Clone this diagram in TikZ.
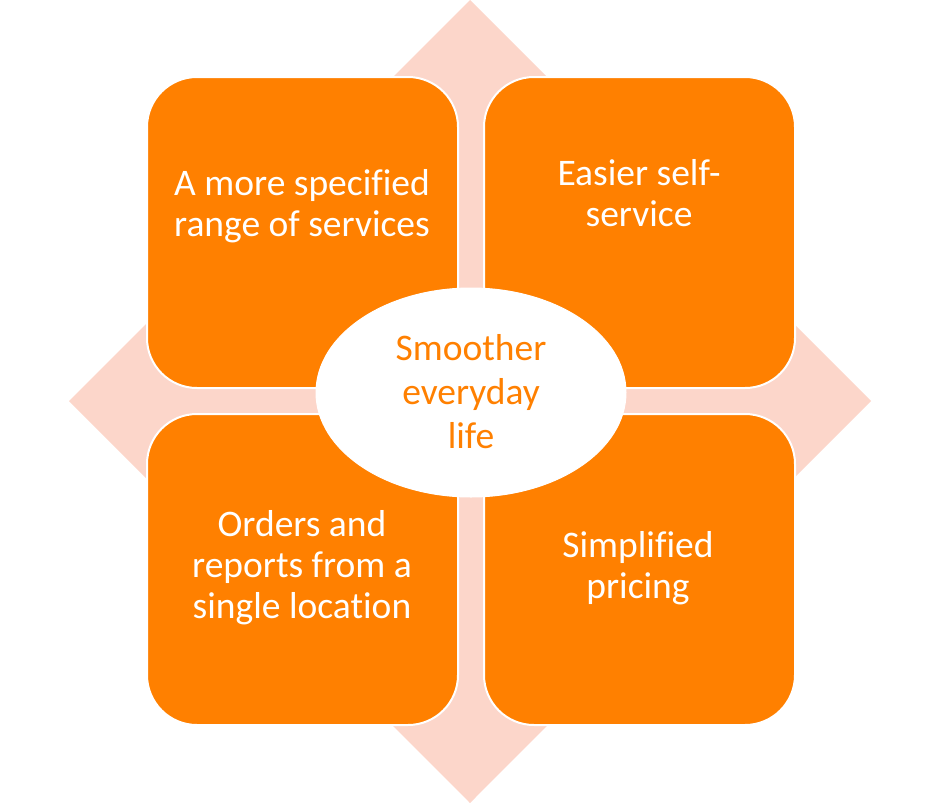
\documentclass[tikz,border=0pt]{standalone}
\usepackage{fontspec}
\setmainfont{Carlito}[Ligatures={NoCommon}]
\usetikzlibrary{shapes.geometric}
\definecolor{orng}{RGB}{255,128,0}
\definecolor{pinkbg}{RGB}{252,214,202}
\begin{document}
\begin{tikzpicture}[x=1pt,y=-1pt,
  box/.style={fill=orng,draw=white,line width=2pt,rounded corners=50pt},
  boxtext/.style={text=white,align=center,anchor=base,inner sep=0pt,font=\fontsize{37.5}{41}\selectfont},
  midtext/.style={text=orng,align=center,anchor=base,inner sep=0pt,font=\fontsize{37.5}{44}\selectfont}]
\useasboundingbox (0,0) rectangle (940,803);
% background diamond
\fill[pinkbg] (470,0) -- (871,401) -- (470,803) -- (69,401) -- cycle;
% boxes
\draw[box] (147,77) rectangle (458,388);
\draw[box] (484,77) rectangle (795,388);
\draw[box] (147,414) rectangle (458,725);
\draw[box] (484,414) rectangle (795,725);
% centre ellipse
\node[ellipse,fill=white,draw=white,line width=1pt,minimum width=310pt,minimum height=209pt,inner sep=0pt] (mid) at (471,392.5) {};
% texts (anchor = baseline of last line)
\node[boxtext] (tl) at (302,236) {A more specified\\range of services};
\node[boxtext] (tr) at (639,226) {Easier self-\\service};
\node[boxtext] (bl) at (302,618) {Orders and\\reports from a\\single location};
\node[boxtext] (br) at (638,598) {Simplified\\pricing};
\node[midtext] (mt) at (471,448) {Smoother\\everyday\\life};
\end{tikzpicture}
\end{document}
